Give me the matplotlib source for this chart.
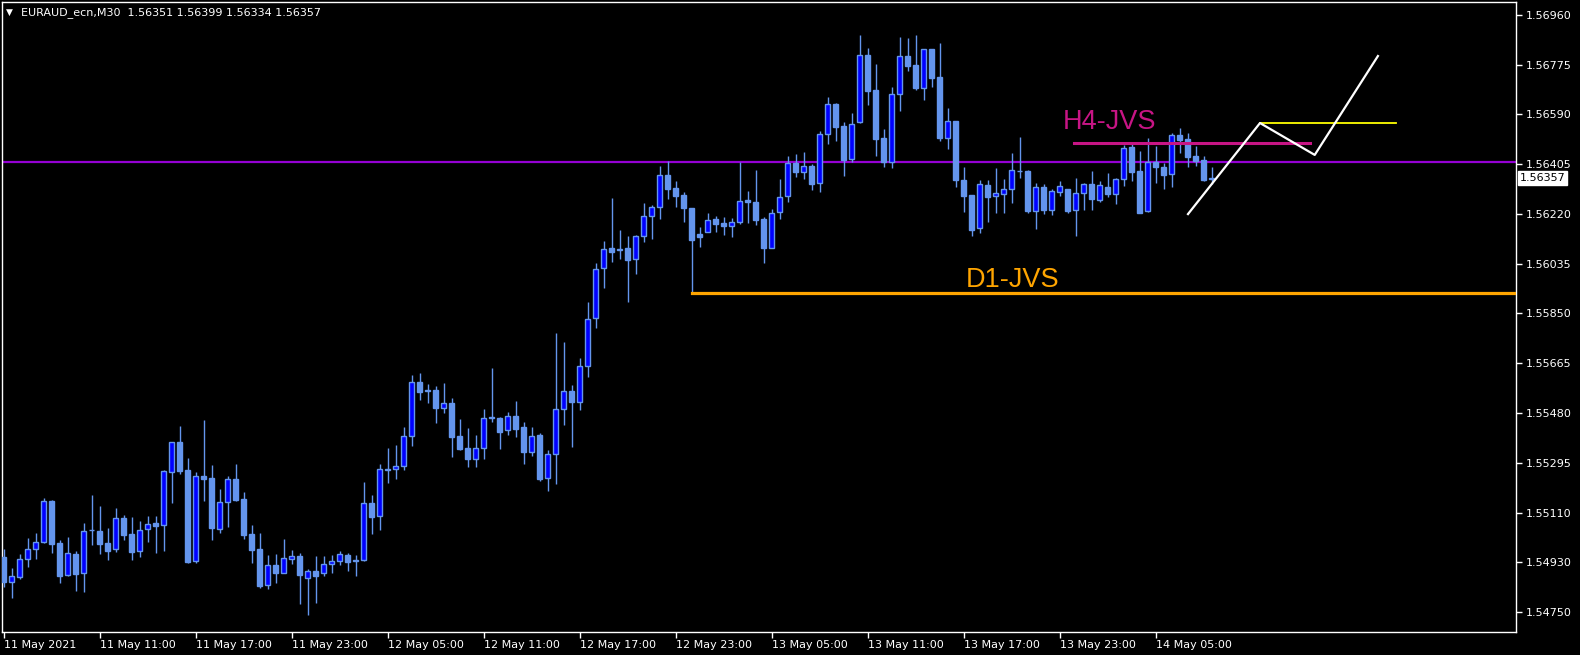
import numpy as np
import matplotlib
matplotlib.use("Agg")
import matplotlib.pyplot as plt
import matplotlib.transforms as mtransforms

# EURAUD_ecn M30 velas (abertura, maxima, minima, fecho)
abertura = [1.54955, 1.54862, 1.54881, 1.54945, 1.54982, 1.55008, 1.55161, 1.55005, 1.54886, 1.54965,
            1.54893, 1.55053, 1.55050, 1.55005, 1.54982, 1.55098, 1.55039, 1.54975, 1.55056, 1.55079,
            1.55071, 1.55267, 1.55379, 1.55276, 1.54937, 1.55253, 1.55246, 1.55058, 1.55156, 1.55241,
            1.55167, 1.55039, 1.54982, 1.54849, 1.54924, 1.54896, 1.54945, 1.54957, 1.54877, 1.54902,
            1.54893, 1.54926, 1.54940, 1.54960, 1.54941, 1.54941, 1.55152, 1.55104, 1.55279, 1.55278,
            1.55292, 1.55400, 1.55600, 1.55571, 1.55572, 1.55504, 1.55524, 1.55402, 1.55357, 1.55315,
            1.55356, 1.55471, 1.55468, 1.55422, 1.55477, 1.55435, 1.55344, 1.55406, 1.55245, 1.55334,
            1.55500, 1.55568, 1.55526, 1.55659, 1.55837, 1.56022, 1.56098, 1.56093, 1.56098, 1.56056,
            1.56141, 1.56215, 1.56251, 1.56368, 1.56320, 1.56294, 1.56246, 1.56149, 1.56156, 1.56205,
            1.56190, 1.56177, 1.56193, 1.56275, 1.56268, 1.56205, 1.56099, 1.56230, 1.56290, 1.56411,
            1.56380, 1.56401, 1.56337, 1.56518, 1.56629, 1.56549, 1.56426, 1.56563, 1.56811, 1.56682,
            1.56503, 1.56417, 1.56666, 1.56808, 1.56775, 1.56691, 1.56834, 1.56730, 1.56506, 1.56568,
            1.56349, 1.56294, 1.56170, 1.56331, 1.56289, 1.56299, 1.56315, 1.56384, 1.56382, 1.56233,
            1.56322, 1.56239, 1.56304, 1.56316, 1.56239, 1.56300, 1.56334, 1.56276, 1.56323, 1.56296,
            1.56351, 1.56471, 1.56382, 1.56233, 1.56415, 1.56396, 1.56370, 1.56515, 1.56500, 1.56437,
            1.56422, 1.56351]
maxima = [1.54983, 1.54912, 1.54965, 1.55024, 1.55042, 1.55172, 1.55165, 1.55017, 1.55028, 1.54976,
          1.55079, 1.55183, 1.55142, 1.55061, 1.55135, 1.55109, 1.55102, 1.55087, 1.55104, 1.55105,
          1.55276, 1.55379, 1.55438, 1.55320, 1.55268, 1.55461, 1.55293, 1.55205, 1.55252, 1.55298,
          1.55194, 1.55072, 1.55042, 1.54961, 1.54965, 1.55020, 1.54979, 1.54968, 1.54911, 1.54957,
          1.54957, 1.54961, 1.54975, 1.54968, 1.54961, 1.55231, 1.55183, 1.55298, 1.55357, 1.55368,
          1.55435, 1.55626, 1.55635, 1.55594, 1.55587, 1.55598, 1.55542, 1.55464, 1.55431, 1.55406,
          1.55501, 1.55653, 1.55473, 1.55490, 1.55531, 1.55453, 1.55435, 1.55413, 1.55350, 1.55783,
          1.55751, 1.55590, 1.55690, 1.55898, 1.56041, 1.56123, 1.56283, 1.56164, 1.56141, 1.56146,
          1.56264, 1.56257, 1.56401, 1.56420, 1.56346, 1.56305, 1.56246, 1.56174, 1.56227, 1.56216,
          1.56212, 1.56207, 1.56416, 1.56309, 1.56386, 1.56213, 1.56242, 1.56353, 1.56439, 1.56445,
          1.56453, 1.56408, 1.56529, 1.56655, 1.56633, 1.56563, 1.56597, 1.56886, 1.56838, 1.56779,
          1.56538, 1.56692, 1.56879, 1.56875, 1.56886, 1.56834, 1.56834, 1.56856, 1.56616, 1.56568,
          1.56396, 1.56294, 1.56349, 1.56349, 1.56392, 1.56353, 1.56449, 1.56508, 1.56386, 1.56338,
          1.56333, 1.56316, 1.56346, 1.56316, 1.56357, 1.56337, 1.56382, 1.56346, 1.56375, 1.56357,
          1.56479, 1.56485, 1.56457, 1.56503, 1.56475, 1.56411, 1.56522, 1.56540, 1.56522, 1.56475,
          1.56437, 1.56399]
minima = [1.54844, 1.54803, 1.54873, 1.54918, 1.54947, 1.55004, 1.54970, 1.54858, 1.54883, 1.54829,
          1.54825, 1.54999, 1.54966, 1.54944, 1.54973, 1.55018, 1.54944, 1.54955, 1.55010, 1.54970,
          1.54977, 1.55155, 1.55262, 1.54933, 1.54933, 1.55162, 1.55016, 1.55044, 1.55066, 1.55162,
          1.55021, 1.54932, 1.54840, 1.54836, 1.54858, 1.54894, 1.54929, 1.54780, 1.54739, 1.54784,
          1.54884, 1.54896, 1.54925, 1.54903, 1.54884, 1.54940, 1.55040, 1.55053, 1.55229, 1.55244,
          1.55276, 1.55366, 1.55536, 1.55525, 1.55451, 1.55488, 1.55325, 1.55350, 1.55288, 1.55288,
          1.55318, 1.55455, 1.55355, 1.55406, 1.55399, 1.55299, 1.55329, 1.55236, 1.55199, 1.55225,
          1.55443, 1.55362, 1.55499, 1.55621, 1.55803, 1.55951, 1.56047, 1.56058, 1.55898, 1.56001,
          1.56121, 1.56131, 1.56206, 1.56280, 1.56251, 1.56195, 1.55927, 1.56102, 1.56155, 1.56157,
          1.56147, 1.56139, 1.56188, 1.56191, 1.56184, 1.56043, 1.56097, 1.56205, 1.56269, 1.56362,
          1.56354, 1.56313, 1.56306, 1.56484, 1.56495, 1.56365, 1.56415, 1.56561, 1.56628, 1.56439,
          1.56399, 1.56395, 1.56606, 1.56754, 1.56684, 1.56645, 1.56693, 1.56495, 1.56464, 1.56325,
          1.56232, 1.56143, 1.56154, 1.56195, 1.56226, 1.56226, 1.56265, 1.56355, 1.56228, 1.56169,
          1.56225, 1.56221, 1.56290, 1.56228, 1.56143, 1.56238, 1.56238, 1.56269, 1.56288, 1.56262,
          1.56328, 1.56346, 1.56226, 1.56232, 1.56339, 1.56317, 1.56325, 1.56450, 1.56396, 1.56401,
          1.56346, 1.56334]
fecho = [1.54862, 1.54882, 1.54945, 1.54982, 1.55008, 1.55160, 1.55003, 1.54884, 1.54967, 1.54892,
         1.55049, 1.55052, 1.55003, 1.54977, 1.55097, 1.55036, 1.54973, 1.55052, 1.55074, 1.55068,
         1.55271, 1.55378, 1.55273, 1.54936, 1.55252, 1.55243, 1.55062, 1.55156, 1.55241, 1.55164,
         1.55036, 1.54979, 1.54846, 1.54923, 1.54896, 1.54949, 1.54956, 1.54887, 1.54902, 1.54884,
         1.54926, 1.54937, 1.54963, 1.54936, 1.54939, 1.55152, 1.55103, 1.55278, 1.55277, 1.55292,
         1.55400, 1.55600, 1.55566, 1.55568, 1.55506, 1.55522, 1.55399, 1.55353, 1.55318, 1.55356,
         1.55467, 1.55468, 1.55418, 1.55476, 1.55429, 1.55344, 1.55401, 1.55242, 1.55335, 1.55500,
         1.55567, 1.55529, 1.55659, 1.55833, 1.56019, 1.56093, 1.56084, 1.56090, 1.56054, 1.56141,
         1.56215, 1.56248, 1.56367, 1.56317, 1.56291, 1.56247, 1.56128, 1.56139, 1.56200, 1.56188,
         1.56177, 1.56193, 1.56270, 1.56268, 1.56201, 1.56097, 1.56226, 1.56288, 1.56411, 1.56380,
         1.56401, 1.56336, 1.56518, 1.56629, 1.56547, 1.56425, 1.56555, 1.56811, 1.56680, 1.56502,
         1.56417, 1.56666, 1.56807, 1.56772, 1.56690, 1.56834, 1.56728, 1.56506, 1.56568, 1.56350,
         1.56291, 1.56165, 1.56333, 1.56288, 1.56300, 1.56315, 1.56385, 1.56381, 1.56236, 1.56322,
         1.56239, 1.56308, 1.56326, 1.56236, 1.56300, 1.56333, 1.56279, 1.56329, 1.56299, 1.56353,
         1.56466, 1.56380, 1.56228, 1.56415, 1.56396, 1.56369, 1.56515, 1.56498, 1.56436, 1.56420,
         1.56349, 1.56357]

rotulos_x = ["11 May 2021", "11 May 11:00", "11 May 17:00", "11 May 23:00", "12 May 05:00",
             "12 May 11:00", "12 May 17:00", "12 May 23:00", "13 May 05:00", "13 May 11:00",
             "13 May 17:00", "13 May 23:00", "14 May 05:00"]
rotulos_y = ["1.56960", "1.56775", "1.56590", "1.56405", "1.56220", "1.56035", "1.55850",
             "1.55665", "1.55480", "1.55295", "1.55110", "1.54930", "1.54750"]

# niveis desenhados no grafico
nivel_d1 = 1.55930
nivel_h4 = 1.56485
nivel_roxo = 1.56417
nivel_amarelo = 1.56560
zigzag_x = [148.06, 157.06, 163.9, 171.8]
zigzag_y = [1.56223, 1.56560, 1.56442, 1.56808]

COR_CLARA = "#6495ED"
COR_ALTA = "#0000FF"

fig = plt.figure(figsize=(15.8, 6.55), dpi=100, facecolor="black")
ax = fig.add_axes([2 / 1580, 1 - 632 / 655, 1514 / 1580, 630 / 655])
ax.set_facecolor("black")

o = np.array(abertura)
h = np.array(maxima)
l = np.array(minima)
c = np.array(fecho)
x = np.arange(len(o))
alta = c > o

# sombras e corpos
ax.vlines(x, l, h, color=COR_CLARA, linewidth=1, zorder=2)
ax.bar(x[~alta], (c - o)[~alta], bottom=o[~alta], width=0.56, facecolor=COR_CLARA,
       edgecolor=COR_CLARA, linewidth=1, zorder=3)
ax.bar(x[alta], (c - o)[alta], bottom=o[alta], width=0.56, facecolor=COR_ALTA,
       edgecolor=COR_CLARA, linewidth=1, zorder=3)

# linhas horizontais e textos
ax.axhline(nivel_roxo, color="#9400D3", linewidth=1.6, zorder=1)
ax.plot([86, 189.1], [nivel_d1, nivel_d1], color="#FFA500", linewidth=2.3, zorder=4)
ax.plot([133.8, 163.3], [nivel_h4, nivel_h4], color="#C71585", linewidth=2.2, zorder=4)
ax.plot([157.06, 174.06], [nivel_amarelo, nivel_amarelo], color="#FFFF00", linewidth=1.3, zorder=4)
ax.plot(zigzag_x, zigzag_y, color="white", linewidth=1.6, zorder=5)
ax.text(132.4, 1.56538, "H4-JVS", color="#C71585", fontsize=19.5,
        family="Liberation Sans", va="baseline", ha="left")
ax.text(120.3, 1.55953, "D1-JVS", color="#FFA500", fontsize=19.5,
        family="Liberation Sans", va="baseline", ha="left")

ax.set_xlim(-0.1875, 189.06)
ax.set_ylim(1.54676, 1.57008)

ax.set_xticks(np.arange(0, 145, 12))
ax.set_xticklabels(rotulos_x, ha="left")
ax.set_yticks(np.linspace(1.5696, 1.5475, 13))
ax.set_yticklabels(rotulos_y)
ax.yaxis.tick_right()
ax.tick_params(axis="both", colors="white", labelsize=8, length=4, width=1, direction="out")
ax.tick_params(axis="x", pad=2)
ax.tick_params(axis="y", pad=3)
for s in ax.spines.values():
    s.set_color("white")
    s.set_linewidth(1)

# etiqueta do preco atual
ax.annotate("1.56357", xy=(1, 1.56357), xycoords=("axes fraction", "data"),
            xytext=(2.5, 0), textcoords="offset points", ha="left", va="center",
            fontsize=8, color="black",
            bbox=dict(boxstyle="square,pad=0.15", facecolor="white", edgecolor="white"))

# titulo no canto
fig.text(6 / 1580, 1 - 12.5 / 655, "\u25bc", color="white", fontsize=6.5, va="center", ha="left")
fig.text(21 / 1580, 1 - 12.5 / 655, "EURAUD_ecn,M30  1.56351 1.56399 1.56334 1.56357",
         color="white", fontsize=8, va="center", ha="left")

fig.savefig("out.png", dpi=100, facecolor="black")
